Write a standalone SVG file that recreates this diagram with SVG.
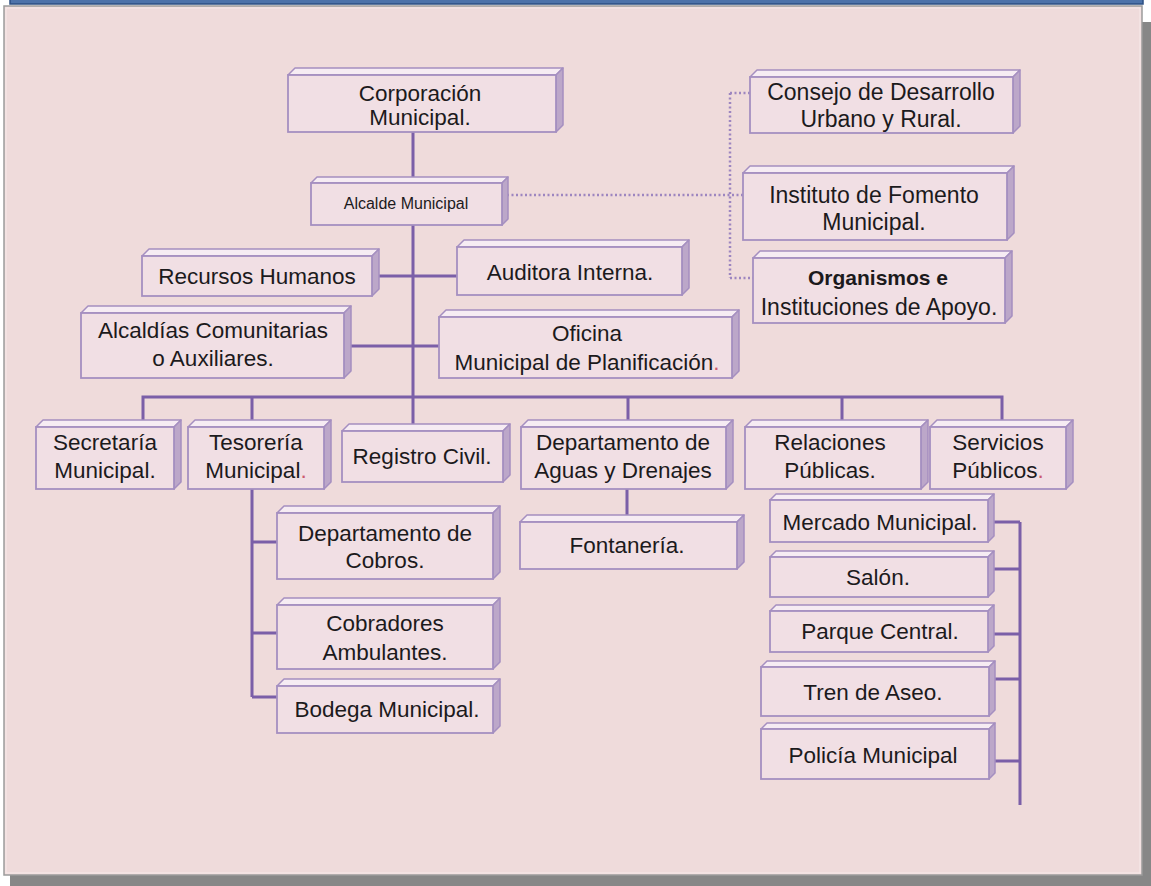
<svg xmlns="http://www.w3.org/2000/svg" width="1151" height="886" viewBox="0 0 1151 886">
<style>
.top{fill:#f6ecf3;stroke:#a58fc0;stroke-width:1.5;stroke-linejoin:round}
.side{fill:#bca7c9;stroke:#a58fc0;stroke-width:1.5;stroke-linejoin:round}
.front{fill:#f1dfe4;stroke:#a58fc0;stroke-width:1.8}
.t{font-family:"Liberation Sans",Arial,sans-serif;font-size:22.5px;fill:#1c1a1c;text-anchor:middle}
.sm{font-size:16px}
.b{font-weight:bold;font-size:21px}
.lg{font-size:23px}
.red{fill:#cc5a6e}
.conn{fill:none;stroke:#7b5fa8;stroke-width:3}
.dot{fill:none;stroke:#9d86c0;stroke-width:2.5;stroke-dasharray:2 2.5}
</style>
<rect x="10" y="22" width="1141" height="864" fill="#878787"/>
<rect x="10" y="-3" width="1133" height="7" fill="#4d73aa" stroke="#2d4f82" stroke-width="1.5"/>
<rect x="4" y="6" width="1138" height="869" fill="#efdbdb" stroke="#9c9c9c" stroke-width="1.5"/>
<rect x="6" y="8" width="1134" height="865" fill="none" stroke="#f7eaea" stroke-width="1"/>

<g id="connectors">
<path class="conn" d="M413 132V183M413 225V424M379 276H457M348 346H439M143 420V397H1002V420M252 397V420M628 397V420M842 397V420"/>
<path class="conn" d="M252 489V697M252 542H277M252 633H277M252 697H277M627 489V515"/>
<path class="conn" d="M994 522H1020M1020 522V805M994 569H1020M994 634H1020M995 679H1020M995 761H1020"/>
<path class="dot" d="M507 195H743M730 93V278M730 93H750M730 278H753"/>
</g>

<g id="corporacion">
<polygon class="top" points="288,75 295,68 563,68 556,75"/>
<polygon class="side" points="556,75 563,68 563,125 556,132"/>
<rect class="front" x="288" y="75" width="268" height="57"/>
<text class="t" x="420" y="101">Corporación</text>
<text class="t" x="420" y="125">Municipal.</text>
</g>

<g id="alcalde">
<polygon class="top" points="311,183 317,177 508,177 502,183"/>
<polygon class="side" points="502,183 508,177 508,219 502,225"/>
<rect class="front" x="311" y="183" width="191" height="42"/>
<text class="t sm" x="406" y="209">Alcalde Municipal</text>
</g>

<g id="consejo">
<polygon class="top" points="750,77 757,70 1020,70 1013,77"/>
<polygon class="side" points="1013,77 1020,70 1020,126 1013,133"/>
<rect class="front" x="750" y="77" width="263" height="56"/>
<text class="t lg" x="881" y="100">Consejo de Desarrollo</text>
<text class="t lg" x="881" y="127">Urbano y Rural.</text>
</g>

<g id="instituto">
<polygon class="top" points="743,173 750,166 1014,166 1007,173"/>
<polygon class="side" points="1007,173 1014,166 1014,233 1007,240"/>
<rect class="front" x="743" y="173" width="264" height="67"/>
<text class="t lg" x="874" y="203">Instituto de Fomento</text>
<text class="t lg" x="874" y="230">Municipal.</text>
</g>

<g id="organismos">
<polygon class="top" points="753,258 760,251 1012,251 1005,258"/>
<polygon class="side" points="1005,258 1012,251 1012,316 1005,323"/>
<rect class="front" x="753" y="258" width="252" height="65"/>
<text class="t b" x="878" y="285">Organismos e</text>
<text class="t lg" x="879" y="315">Instituciones de Apoyo.</text>
</g>

<g id="recursos">
<polygon class="top" points="142,256 149,249 379,249 372,256"/>
<polygon class="side" points="372,256 379,249 379,289 372,296"/>
<rect class="front" x="142" y="256" width="230" height="40"/>
<text class="t" x="257" y="284">Recursos Humanos</text>
</g>

<g id="auditora">
<polygon class="top" points="457,247 464,240 689,240 682,247"/>
<polygon class="side" points="682,247 689,240 689,288 682,295"/>
<rect class="front" x="457" y="247" width="225" height="48"/>
<text class="t" x="570" y="280">Auditora Interna.</text>
</g>

<g id="alcaldias">
<polygon class="top" points="81,313 88,306 351,306 344,313"/>
<polygon class="side" points="344,313 351,306 351,371 344,378"/>
<rect class="front" x="81" y="313" width="263" height="65"/>
<text class="t" x="213" y="338">Alcaldías Comunitarias</text>
<text class="t" x="213" y="366">o Auxiliares.</text>
</g>

<g id="oficina">
<polygon class="top" points="439,317 446,310 739,310 732,317"/>
<polygon class="side" points="732,317 739,310 739,371 732,378"/>
<rect class="front" x="439" y="317" width="293" height="61"/>
<text class="t" x="587" y="341">Oficina</text>
<text class="t" x="587" y="370">Municipal de Planificación<tspan class="red">.</tspan></text>
</g>

<g id="secretaria">
<polygon class="top" points="36,427 43,420 181,420 174,427"/>
<polygon class="side" points="174,427 181,420 181,482 174,489"/>
<rect class="front" x="36" y="427" width="138" height="62"/>
<text class="t" x="105" y="450">Secretaría</text>
<text class="t" x="105" y="478">Municipal.</text>
</g>

<g id="tesoreria">
<polygon class="top" points="188,427 195,420 331,420 324,427"/>
<polygon class="side" points="324,427 331,420 331,482 324,489"/>
<rect class="front" x="188" y="427" width="136" height="62"/>
<text class="t" x="256" y="450">Tesorería</text>
<text class="t" x="256" y="478">Municipal<tspan class="red">.</tspan></text>
</g>

<g id="registro">
<polygon class="top" points="342,431 349,424 510,424 503,431"/>
<polygon class="side" points="503,431 510,424 510,475 503,482"/>
<rect class="front" x="342" y="431" width="161" height="51"/>
<text class="t" x="422" y="464">Registro Civil.</text>
</g>

<g id="aguas">
<polygon class="top" points="521,427 528,420 733,420 726,427"/>
<polygon class="side" points="726,427 733,420 733,482 726,489"/>
<rect class="front" x="521" y="427" width="205" height="62"/>
<text class="t" x="623" y="450">Departamento de</text>
<text class="t" x="623" y="478">Aguas y Drenajes</text>
</g>

<g id="relaciones">
<polygon class="top" points="745,427 752,420 928,420 921,427"/>
<polygon class="side" points="921,427 928,420 928,482 921,489"/>
<rect class="front" x="745" y="427" width="176" height="62"/>
<text class="t" x="830" y="450">Relaciones</text>
<text class="t" x="830" y="478">Públicas.</text>
</g>

<g id="servicios">
<polygon class="top" points="930,427 937,420 1073,420 1066,427"/>
<polygon class="side" points="1066,427 1073,420 1073,482 1066,489"/>
<rect class="front" x="930" y="427" width="136" height="62"/>
<text class="t" x="998" y="450">Servicios</text>
<text class="t" x="998" y="478">Públicos<tspan class="red">.</tspan></text>
</g>

<g id="cobros">
<polygon class="top" points="277,513 284,506 500,506 493,513"/>
<polygon class="side" points="493,513 500,506 500,572 493,579"/>
<rect class="front" x="277" y="513" width="216" height="66"/>
<text class="t" x="385" y="541">Departamento de</text>
<text class="t" x="385" y="568">Cobros.</text>
</g>

<g id="cobradores">
<polygon class="top" points="277,605 284,598 500,598 493,605"/>
<polygon class="side" points="493,605 500,598 500,662 493,669"/>
<rect class="front" x="277" y="605" width="216" height="64"/>
<text class="t" x="385" y="631">Cobradores</text>
<text class="t" x="385" y="660">Ambulantes.</text>
</g>

<g id="bodega">
<polygon class="top" points="277,686 284,679 500,679 493,686"/>
<polygon class="side" points="493,686 500,679 500,726 493,733"/>
<rect class="front" x="277" y="686" width="216" height="47"/>
<text class="t" x="387" y="717">Bodega Municipal.</text>
</g>

<g id="fontaneria">
<polygon class="top" points="520,522 527,515 744,515 737,522"/>
<polygon class="side" points="737,522 744,515 744,562 737,569"/>
<rect class="front" x="520" y="522" width="217" height="47"/>
<text class="t" x="627" y="553">Fontanería.</text>
</g>

<g id="mercado">
<polygon class="top" points="770,500 776,494 994,494 988,500"/>
<polygon class="side" points="988,500 994,494 994,536 988,542"/>
<rect class="front" x="770" y="500" width="218" height="42"/>
<text class="t" x="880" y="530">Mercado Municipal.</text>
</g>

<g id="salon">
<polygon class="top" points="770,557 776,551 994,551 988,557"/>
<polygon class="side" points="988,557 994,551 994,591 988,597"/>
<rect class="front" x="770" y="557" width="218" height="40"/>
<text class="t" x="878" y="585">Salón.</text>
</g>

<g id="parque">
<polygon class="top" points="770,611 776,605 994,605 988,611"/>
<polygon class="side" points="988,611 994,605 994,646 988,652"/>
<rect class="front" x="770" y="611" width="218" height="41"/>
<text class="t" x="880" y="639">Parque Central.</text>
</g>

<g id="tren">
<polygon class="top" points="761,667 767,661 995,661 989,667"/>
<polygon class="side" points="989,667 995,661 995,710 989,716"/>
<rect class="front" x="761" y="667" width="228" height="49"/>
<text class="t" x="873" y="700">Tren de Aseo.</text>
</g>

<g id="policia">
<polygon class="top" points="761,729 767,723 995,723 989,729"/>
<polygon class="side" points="989,729 995,723 995,773 989,779"/>
<rect class="front" x="761" y="729" width="228" height="50"/>
<text class="t" x="873" y="763">Policía Municipal</text>
</g>
</svg>
